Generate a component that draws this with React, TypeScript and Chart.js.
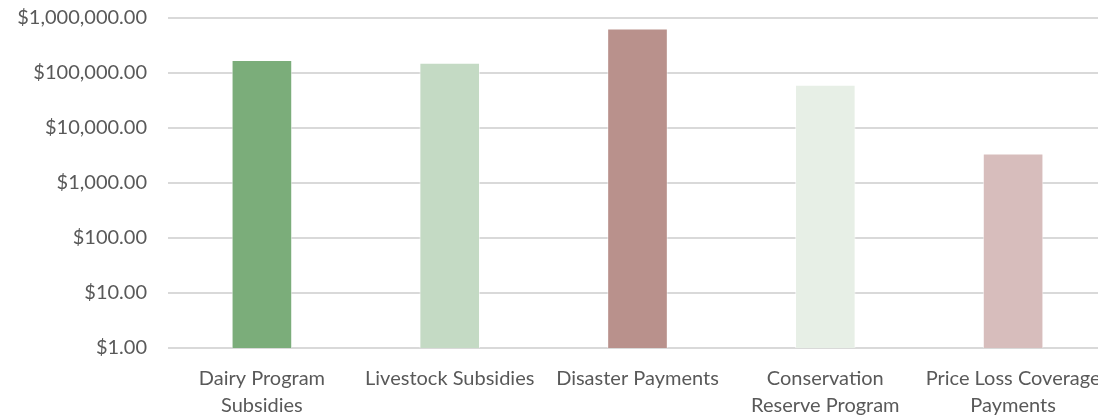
import React, { useEffect, useRef } from "react";
import { Chart, registerables } from "chart.js";

Chart.register(...registerables);

const categories: string[][] = [
  ["Dairy Program", "Subsidies"],
  ["Livestock Subsidies"],
  ["Disaster Payments"],
  ["Conservation", "Reserve Program"],
  ["Price Loss Coverage", "Payments"],
];
const values: number[] = [170000, 152000, 637000, 60000, 3400];
const barColors: string[] = ["#7BAD7A", "#C4DAC4", "#B9918C", "#E7EFE6", "#D7BDBC"];
const tickValues: number[] = [1, 10, 100, 1000, 10000, 100000, 1000000];

const FONT = "Lato, 'Open Sans', sans-serif";

export default function App() {
  const ref = useRef<HTMLCanvasElement | null>(null);
  useEffect(() => {
    if (!ref.current) return;
    const chart = new Chart(ref.current, {
      type: "bar",
      data: {
        labels: categories,
        datasets: [
          {
            data: values,
            backgroundColor: barColors,
            borderColor: "rgba(255,255,255,0.5)",
            borderWidth: 1,
            barThickness: 60,
          },
        ],
      },
      options: {
        animation: false,
        responsive: false,
        devicePixelRatio: 1,
        layout: { padding: { top: 18, right: 13, bottom: 0, left: 0 } },
        plugins: { legend: { display: false }, tooltip: { enabled: false } },
        scales: {
          x: {
            grid: { display: false, drawTicks: false },
            border: { display: false },
            ticks: {
              color: "#595959",
              font: { family: FONT, size: 20, lineHeight: 1.35 },
              padding: 17,
              maxRotation: 0,
              autoSkip: false,
            },
            afterFit: (s: any) => {
              s.height = 68;
              s.paddingLeft = 0;
              s.paddingRight = 0;
            },
          },
          y: {
            type: "logarithmic",
            min: 1,
            max: 1000000,
            afterBuildTicks: (s: any) => {
              s.ticks = tickValues.map((v) => ({ value: v }));
            },
            afterFit: (s: any) => {
              s.width = 168;
              s.paddingTop = 0;
              s.paddingBottom = 0;
            },
            grid: { color: "#D9D9D9", lineWidth: 2, drawTicks: false },
            border: { display: false },
            ticks: {
              color: "#595959",
              font: { family: FONT, size: 20 },
              padding: 21,
              callback: (v: any) =>
                "$" + Number(v).toLocaleString("en-US", { minimumFractionDigits: 2, maximumFractionDigits: 2 }),
            },
          },
        },
      },
    });
    return () => chart.destroy();
  }, []);
  return (
    <div
      style={{
        position: "fixed",
        left: 0,
        top: 0,
        width: 1098,
        height: 416,
        overflow: "hidden",
        background: "#fff",
      }}
    >
      <canvas ref={ref} width={1120} height={416} style={{ display: "block" }} />
    </div>
  );
}
